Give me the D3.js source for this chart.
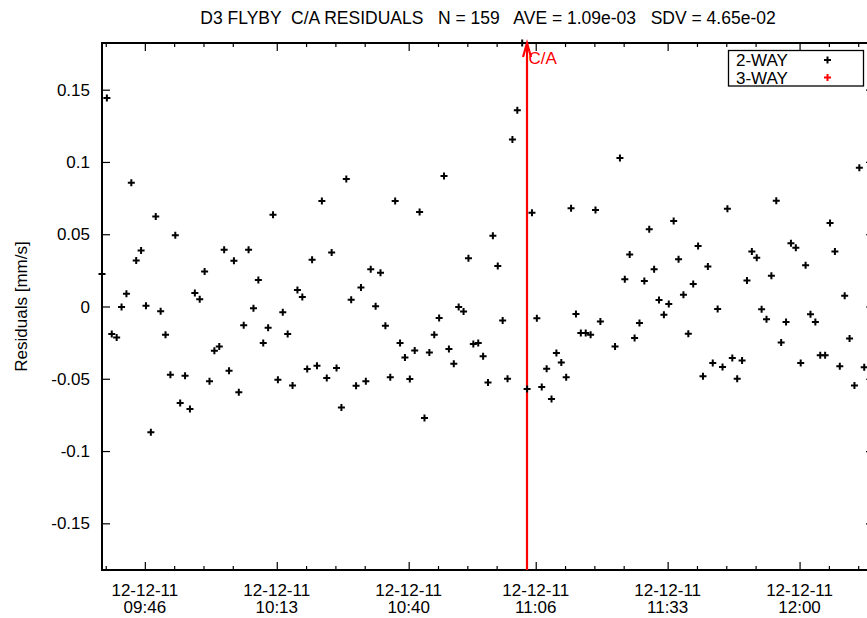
<!DOCTYPE html>
<html>
<head>
<meta charset="utf-8">
<script src="https://cdn.jsdelivr.net/npm/d3@7"></script>
<style>
  body { margin: 0; background: #fff; }
  svg text { font-family: "Liberation Sans", Arial, Helvetica, sans-serif; fill: #000; }
</style>
</head>
<body>
<svg id="chart" width="867" height="618"></svg>
<script>
// D3 flyby closest-approach Doppler residuals, 2-way tracking
const passDate = "2012-12-11";

const obsTimes = [
  "09:37:14","09:38:14","09:39:14","09:40:14","09:41:14","09:42:14","09:43:14","09:44:14","09:45:14","09:46:14",
  "09:47:14","09:48:14","09:49:14","09:50:14","09:51:14","09:52:14","09:53:14","09:54:14","09:55:14","09:56:14",
  "09:57:14","09:58:14","09:59:14","10:00:14","10:01:14","10:02:14","10:03:14","10:04:14","10:05:14","10:06:14",
  "10:07:14","10:08:14","10:09:14","10:10:14","10:11:14","10:12:14","10:13:14","10:14:14","10:15:14","10:16:14",
  "10:17:14","10:18:14","10:19:14","10:20:14","10:21:14","10:22:14","10:23:14","10:24:14","10:25:14","10:26:14",
  "10:27:14","10:28:14","10:29:14","10:30:14","10:31:14","10:32:14","10:33:14","10:34:14","10:35:14","10:36:14",
  "10:37:14","10:38:14","10:39:14","10:40:14","10:41:14","10:42:14","10:43:14","10:44:14","10:45:14","10:46:14",
  "10:47:14","10:48:14","10:49:14","10:50:14","10:51:14","10:52:14","10:53:14","10:54:14","10:55:14","10:56:14",
  "10:57:14","10:58:14","10:59:14","11:00:14","11:01:14","11:02:14","11:03:14","11:04:14","11:05:14","11:06:14",
  "11:07:14","11:08:14","11:09:14","11:10:14","11:11:14","11:12:14","11:13:14","11:14:14","11:15:14","11:16:14",
  "11:17:14","11:18:14","11:19:14","11:22:14","11:23:14","11:24:14","11:25:14","11:26:14","11:27:14","11:28:14",
  "11:29:14","11:30:14","11:31:14","11:32:14","11:33:14","11:34:14","11:35:14","11:36:14","11:37:14","11:38:14",
  "11:39:14","11:40:14","11:41:14","11:42:14","11:43:14","11:44:14","11:45:14","11:46:14","11:47:14","11:48:14",
  "11:49:14","11:50:14","11:51:14","11:52:14","11:53:14","11:54:14","11:55:14","11:56:14","11:57:14","11:58:14",
  "11:59:14","12:00:14","12:01:14","12:02:14","12:03:14","12:04:14","12:05:14","12:06:14","12:07:14","12:08:14",
  "12:09:14","12:10:14","12:11:14","12:12:14","12:13:14"
];

// 2-way residuals, mm/s
const residuals2Way = [
   0.0224,  0.1443, -0.0191, -0.0214, -0.0003,  0.0088,  0.0856,  0.0318,  0.0387,  0.0005,
  -0.0870,  0.0622, -0.0032, -0.0195, -0.0472,  0.0493, -0.0667, -0.0479, -0.0709,  0.0093,
   0.0050,  0.0242, -0.0518, -0.0306, -0.0276,  0.0392, -0.0444,  0.0316, -0.0594, -0.0130,
   0.0392, -0.0012,  0.0184, -0.0253, -0.0147,  0.0635, -0.0506, -0.0039, -0.0191, -0.0546,
   0.0115,  0.0065, -0.0432,  0.0323, -0.0410,  0.0730, -0.0494,  0.0373, -0.0425, -0.0698,
   0.0882,  0.0046, -0.0548,  0.0131, -0.0518,  0.0258,  0.0001,  0.0233, -0.0133, -0.0490,
   0.0730, -0.0253, -0.0352, -0.0501, -0.0304,  0.0654, -0.0771, -0.0318, -0.0195, -0.0080,
   0.0903, -0.0294, -0.0396, -0.0004, -0.0035,  0.0334, -0.0260, -0.0253, -0.0345, -0.0525,
   0.0490,  0.0281, -0.0097, -0.0499,  0.1156,  0.1358,  0.1823, -0.0570,  0.0649, -0.0081,
  -0.0557, -0.0430, -0.0640, -0.0322, -0.0387, -0.0490,  0.0680, -0.0052, -0.0184, -0.0184,
  -0.0195,  0.0668, -0.0104, -0.0276,  0.1027,  0.0189,  0.0359, -0.0218, -0.0115,  0.0177,
   0.0535,  0.0258,  0.0045, -0.0057,  0.0017,  0.0592,  0.0327,  0.0081, -0.0189,  0.0155,
   0.0419, -0.0483,  0.0276, -0.0391, -0.0018, -0.0419,  0.0677, -0.0356, -0.0499, -0.0373,
   0.0180,  0.0380,  0.0338, -0.0019, -0.0088,  0.0212,  0.0732, -0.0249, -0.0107,  0.0438,
   0.0407, -0.0391,  0.0286, -0.0054, -0.0108, -0.0338, -0.0338,  0.0578,  0.0380, -0.0414,
   0.0074, -0.0221, -0.0546,  0.0960, -0.0421
];

// no 3-way points in this pass
const residuals3Way = [];

const passStart = "09:37:14";
const passEnd = "12:15:14";
const closestApproach = "11:04:13";

const xMajorTicks = ["09:46","10:13","10:40","11:06","11:33","12:00"];
const xMinorTicks = ["09:38","09:52","09:58","10:04","10:19","10:25","10:31","10:46","10:52","10:58",
                     "11:12","11:18","11:24","11:39","11:45","11:51","12:06","12:12"];
const yTicks = [-0.15, -0.1, -0.05, 0, 0.05, 0.1, 0.15];
const yTickLabels = ["-0.15", "-0.1", "-0.05", "0", "0.05", "0.1", "0.15"];

const seriesNames = ["2-WAY", "3-WAY"];
const seriesColors = ["#000000", "#ff0000"];
const titleText = "D3 FLYBY  C/A RESIDUALS   N = 159   AVE = 1.09e-03   SDV = 4.65e-02";
const yTitle = "Residuals [mm/s]";
const caLabel = "C/A";

// ---- layout ----
const svg = d3.select("#chart");
const W = 867, H = 618;
const plot = { left: 102, right: 874, top: 43, bottom: 570 };
const fs = 17;

const parseFull = d3.timeParse("%Y-%m-%d %H:%M:%S");
const t = s => parseFull(passDate + " " + (s.length === 5 ? s + ":00" : s));

const pts2 = obsTimes.map((s, i) => ({ t: t(s), v: residuals2Way[i] }));

const x = d3.scaleTime()
  .domain([t(passStart), t(passEnd)])
  .range([plot.left, plot.right]);

const yMax = d3.max(residuals2Way, Math.abs);
const y = d3.scaleLinear()
  .domain([-yMax, yMax])
  .range([plot.bottom, plot.top]);

const fmtDate = d3.timeFormat("%y-%m-%d");
const fmtClock = d3.timeFormat("%H:%M");

// ---- axes: ticks point inward on all four sides ----
function styleAxis(g) {
  g.select(".domain").remove();
  g.selectAll(".tick line").attr("stroke", "#000").attr("stroke-width", 1.2);
  g.selectAll(".tick text").remove();
}

const majorT = xMajorTicks.map(t);
const minorT = xMinorTicks.map(t);

svg.append("g").attr("transform", `translate(0,${plot.bottom})`)
  .call(d3.axisBottom(x).tickValues(majorT).tickSizeInner(-8).tickSizeOuter(0)).call(styleAxis);
svg.append("g").attr("transform", `translate(0,${plot.bottom})`)
  .call(d3.axisBottom(x).tickValues(minorT).tickSizeInner(-4).tickSizeOuter(0)).call(styleAxis);
svg.append("g").attr("transform", `translate(0,${plot.top})`)
  .call(d3.axisTop(x).tickValues(majorT).tickSizeInner(-8).tickSizeOuter(0)).call(styleAxis);
svg.append("g").attr("transform", `translate(0,${plot.top})`)
  .call(d3.axisTop(x).tickValues(minorT).tickSizeInner(-4).tickSizeOuter(0)).call(styleAxis);
svg.append("g").attr("transform", `translate(${plot.left},0)`)
  .call(d3.axisLeft(y).tickValues(yTicks).tickSizeInner(-8).tickSizeOuter(0)).call(styleAxis);
svg.append("g").attr("transform", `translate(${plot.right},0)`)
  .call(d3.axisRight(y).tickValues(yTicks).tickSizeInner(-8).tickSizeOuter(0)).call(styleAxis);

// frame
svg.append("rect")
  .attr("x", plot.left).attr("y", plot.top)
  .attr("width", plot.right - plot.left).attr("height", plot.bottom - plot.top)
  .attr("fill", "none").attr("stroke", "#000").attr("stroke-width", 2);

// y tick labels
svg.append("g").selectAll("text").data(yTicks).join("text")
  .attr("x", 90).attr("y", d => y(d) + 6)
  .attr("text-anchor", "end").attr("font-size", fs)
  .text((d, i) => yTickLabels[i]);

// x tick labels, date over clock time
const xl = svg.append("g").selectAll("text").data(majorT).join("text")
  .attr("text-anchor", "middle").attr("font-size", fs);
xl.append("tspan").attr("x", d => x(d)).attr("y", 596).text(d => fmtDate(d));
xl.append("tspan").attr("x", d => x(d)).attr("y", 613).text(d => fmtClock(d));

// title
svg.append("text")
  .attr("x", (plot.left + plot.right) / 2).attr("y", 23.5)
  .attr("text-anchor", "middle").attr("font-size", 17.5)
  .attr("xml:space", "preserve").style("white-space", "pre")
  .text(titleText);

// y axis title
svg.append("text")
  .attr("transform", `translate(27,${(plot.top + plot.bottom) / 2}) rotate(-90)`)
  .attr("text-anchor", "middle").attr("font-size", fs)
  .text(yTitle);

// closest-approach marker
const caX = x(t(closestApproach));
const ca = svg.append("g").attr("stroke", "#ff0000").attr("stroke-width", 2.2).attr("fill", "none");
ca.append("line").attr("x1", caX).attr("x2", caX).attr("y1", plot.bottom).attr("y2", plot.top);
ca.append("path").attr("d", `M${caX - 4},${plot.top + 14}L${caX},${plot.top}L${caX + 4},${plot.top + 14}`);
svg.append("text").attr("x", caX + 1.5).attr("y", 64)
  .attr("font-size", fs).style("fill", "#ff0000").text(caLabel);

// data points as plus marks
const plus = "M-3.5,0H3.5M0,-3.5V3.5";
svg.append("g").selectAll("path").data(pts2).join("path")
  .attr("d", plus)
  .attr("transform", d => `translate(${x(d.t)},${y(d.v)})`)
  .attr("stroke", seriesColors[0]).attr("stroke-width", 2).attr("fill", "none");
svg.append("g").selectAll("path").data(residuals3Way).join("path")
  .attr("d", plus).attr("stroke", seriesColors[1]).attr("stroke-width", 2);

// legend
const lg = svg.append("g");
lg.append("rect").attr("x", 728.5).attr("y", 50.5).attr("width", 135).attr("height", 35.5)
  .attr("fill", "#fff").attr("stroke", "#000").attr("stroke-width", 1.3);
seriesNames.forEach((name, i) => {
  const cy = 60 + i * 17.5;
  lg.append("text").attr("x", 736).attr("y", cy + 6).attr("font-size", fs).text(name);
  lg.append("path").attr("d", plus).attr("transform", `translate(827.5,${cy})`)
    .attr("stroke", seriesColors[i]).attr("stroke-width", 2).attr("fill", "none");
});
</script>
</body>
</html>
